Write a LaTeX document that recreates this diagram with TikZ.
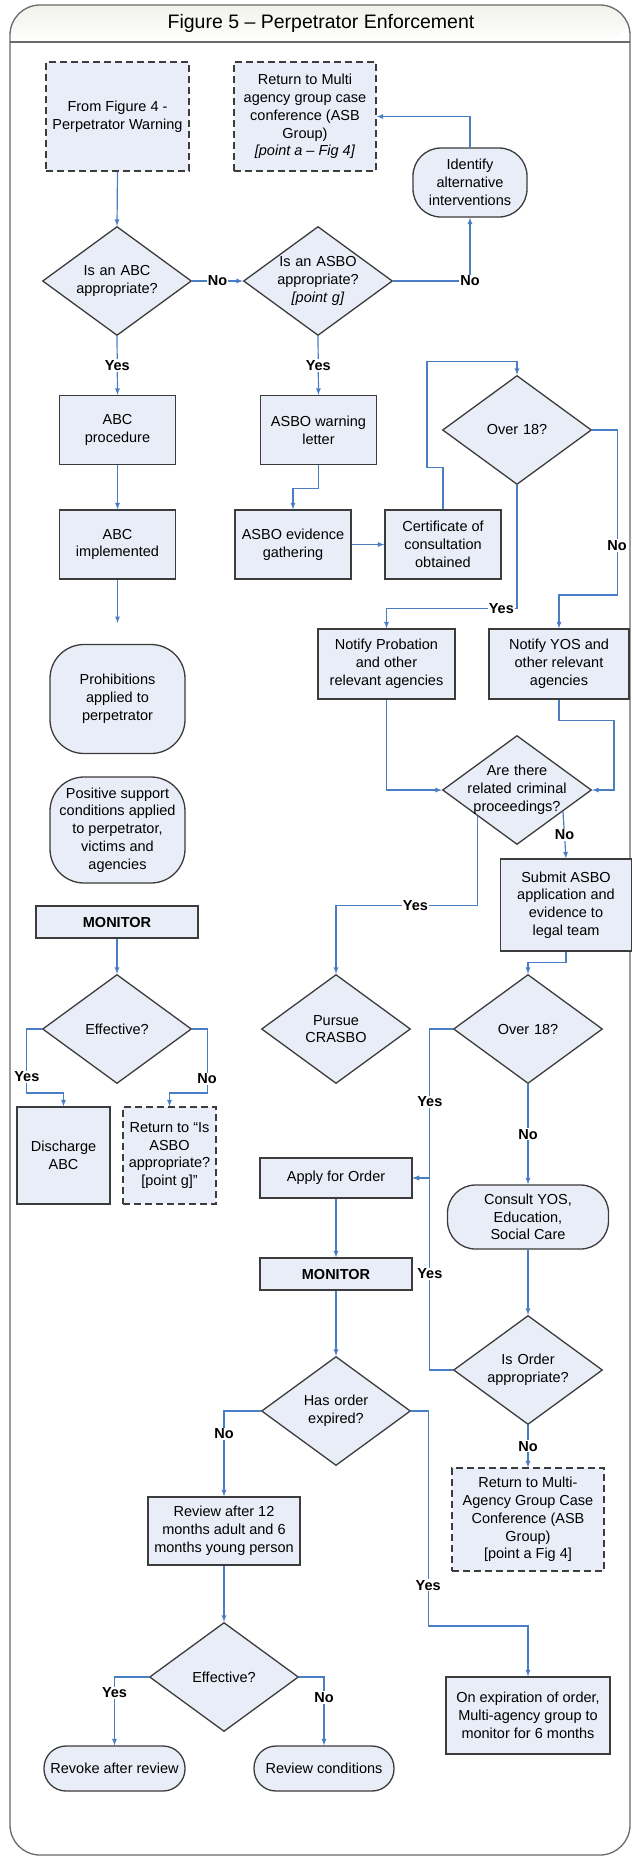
\documentclass[tikz,border=0pt]{standalone}
\usepackage{fontspec}
\setmainfont{Liberation Sans}
\usetikzlibrary{shapes.geometric}
\definecolor{boxfill}{RGB}{233,237,247}
\definecolor{boxline}{RGB}{60,60,60}
\definecolor{flowblue}{RGB}{74,126,196}
\definecolor{framegray}{RGB}{105,105,105}
\definecolor{titletop}{RGB}{240,242,234}
\tikzset{
	procbox/.style 2 args={draw=boxline, line width=1.3pt, fill=boxfill, align=center,
		minimum width=#1, minimum height=#2},
	linkbox/.style 2 args={procbox={#1}{#2}, dash pattern=on 7pt off 4pt},
	termbox/.style 2 args={procbox={#1}{#2}, rounded corners=28pt},
	decision/.style={diamond, aspect=1.37, draw=boxline, line width=1.3pt, fill=boxfill,
		minimum width=149pt, minimum height=109pt, inner xsep=-22pt, inner ysep=0pt,
		text width=104pt, align=center},
	flow/.style={draw=flowblue, line width=1.2pt, -latex},
	answer/.style={fill=white, inner sep=1pt, font=\bfseries\fontsize{14.5}{17}\selectfont}
}
\begin{document}
\begin{tikzpicture}[x=1pt, y=-1pt, font=\fontsize{14.5}{17.8}\selectfont]
	\useasboundingbox (0,0) rectangle (632,1858);
	\shade[top color=titletop, bottom color=white] (10,42) [rounded corners=30pt] -- (10,5) -- (630,5) -- (630,42) [sharp corners] -- cycle;
	\draw[framegray, line width=2pt] (10,42) -- (630,42);
	\draw[framegray, line width=1.3pt, rounded corners=30pt] (10,5) rectangle (630,1855);
	\node[font=\fontsize{19.5}{23}\selectfont] (title) at (321,23) {Figure 5 – Perpetrator Enforcement};

	\node[linkbox={143pt}{109pt}] (from4) at (117.5,116.5) {From Figure 4 -\\Perpetrator Warning};
	\node[linkbox={142pt}{109pt}] (ret4) at (305,116.5) {Return to Multi\\agency group case\\conference (ASB\\Group)\\\textit{[point a – Fig 4]}};
	\node[termbox={114pt}{69pt}] (ident) at (470,182.5) {Identify\\alternative\\interventions};
	\node[decision] (abc) at (117,281) {Is an ABC\\appropriate?};
	\node[decision] (asbo) at (318,281) {Is an ASBO\\appropriate?\\\textit{[point g]}};
	\node[procbox={116pt}{69pt}] (abcproc) at (117.5,430) {ABC\\procedure};
	\node[procbox={116pt}{69pt}] (asbowarn) at (318.5,430) {ASBO warning\\letter};
	\node[decision] (over18a) at (517,430) {Over 18?};
	\node[procbox={116pt}{69pt}] (abcimpl) at (117.5,544.5) {ABC\\implemented};
	\node[procbox={116pt}{69pt}] (evid) at (293,544.5) {ASBO evidence\\gathering};
	\node[procbox={116pt}{69pt}] (cert) at (443,544.5) {Certificate of\\consultation\\obtained};
	\coordinate (abcend) at (117.5,623);
	\node[termbox={135pt}{109pt}, rounded corners=34pt] (prohib) at (117.5,699) {Prohibitions\\applied to\\perpetrator};
	\node[termbox={135pt}{106pt}, rounded corners=34pt] (positive) at (117.5,830) {Positive support\\conditions applied\\to perpetrator,\\victims and\\agencies};
	\node[procbox={137pt}{70pt}] (notifyprob) at (386.5,664) {Notify Probation\\and other\\relevant agencies};
	\node[procbox={140pt}{70pt}] (notifyyos) at (559,664) {Notify YOS and\\other relevant\\agencies};
	\node[decision] (related) at (517,790) {Are there\\related criminal\\proceedings?};
	\node[procbox={131pt}{92pt}] (submit) at (566,905) {Submit ASBO\\application and\\evidence to\\legal team};
	\node[procbox={162pt}{32pt}] (monitor1) at (117,922) {\textbf{MONITOR}};
	\node[decision] (effect1) at (117,1029) {Effective?};
	\node[procbox={93pt}{97pt}] (discharge) at (63.5,1155.5) {Discharge\\ABC};
	\node[linkbox={93pt}{97pt}] (retg) at (169.5,1155.5) {Return to “Is\\ASBO\\appropriate?\\{}[point g]”};
	\node[decision] (crasbo) at (336,1029) {Pursue\\CRASBO};
	\node[decision] (over18b) at (528,1029) {Over 18?};
	\node[procbox={152pt}{40pt}] (apply) at (336,1178) {Apply for Order};
	\node[termbox={161pt}{64pt}] (consult) at (528,1217) {Consult YOS,\\Education,\\Social Care};
	\node[procbox={152pt}{32pt}] (monitor2) at (336,1274) {\textbf{MONITOR}};
	\node[decision] (expired) at (336,1411) {Has order\\expired?};
	\node[decision] (isorder) at (528,1370) {Is Order\\appropriate?};
	\node[linkbox={152pt}{103pt}] (retmulti) at (528,1519.5) {Return to Multi-\\Agency Group Case\\Conference (ASB\\Group)\\{}[point a Fig 4]};
	\node[procbox={152pt}{68pt}] (review) at (224,1531) {Review after 12\\months adult and 6\\months young person};
	\node[decision] (effect2) at (224,1677) {Effective?};
	\node[procbox={164pt}{77pt}] (onexp) at (528,1715.5) {On expiration of order,\\Multi-agency group to\\monitor for 6 months};
	\node[termbox={141pt}{45pt}, rounded corners=22pt] (revoke) at (114.5,1768.5) {Revoke after review};
	\node[termbox={140pt}{45pt}, rounded corners=22pt] (reviewcond) at (324,1768.5) {Review conditions};

	\draw[flow] (from4.south) -- (abc.north);
	\draw[flow] (abc.east) -- node[answer]{No} (asbo.west);
	\draw[flow] (asbo.east) -| node[answer]{No} (ident.south);
	\draw[flow] (ident.north) |- (ret4.east);
	\draw[flow] (abc.south) -- node[answer]{Yes} (abcproc.north);
	\draw[flow] (asbo.south) -- node[answer]{Yes} (asbowarn.north);
	\draw[flow] (abcproc) -- (abcimpl);
	\draw[flow] (abcimpl) -- (abcend);
	\draw[flow] (asbowarn.south) -- ++(0,23) -| (evid.north);
	\draw[flow] (evid) -- (cert);
	\draw[flow] (cert.north) -- ++(0,-42) -- ++(-16,0) -- ++(0,-106) -| (over18a.north);
	\draw[flow] (over18a.east) -- ++(25,0) -- node[answer,pos=0.7]{No} ++(0,165) -| (notifyyos.north);
	\draw[flow] (over18a.south) -- ++(0,123) -| node[answer,pos=0.06]{Yes} (notifyprob.north);
	\draw[flow] (notifyprob.south) |- (related.west);
	\draw[flow] (notifyyos.south) -- ++(0,21) -- ++(55,0) |- (related.east);
	\draw[flow] (related.-25) -- node[answer]{No} (submit.north);
	\draw[flow] (related.-146) -- ++(0,89) -| node[answer,pos=0.22]{Yes} (crasbo.north);
	\draw[flow] (submit.south) -- ++(0,11) -| (over18b.north);
	\draw[flow] (over18b.west) -- ++(-23,0) |- node[answer,pos=0.245]{Yes} (apply.east);
	\draw[flow] (isorder.west) -- ++(-23,0) |- node[answer,pos=0.25]{Yes} (apply.east);
	\draw[flow] (over18b.south) -- node[answer]{No} (consult.north);
	\draw[flow] (consult) -- (isorder);
	\draw[flow] (isorder.south) -- node[answer]{No} (retmulti.north);
	\draw[flow] (apply) -- (monitor2);
	\draw[flow] (monitor2) -- (expired);
	\draw[flow] (expired.west) -| node[answer,pos=0.634]{No} (review.north);
	\draw[flow] (expired.east) -- ++(17,0) -- node[answer,pos=0.81]{Yes} ++(0,215) -| (onexp.north);
	\draw[flow] (review) -- (effect2);
	\draw[flow] (effect2.west) -| node[answer,pos=0.616]{Yes} (revoke.north);
	\draw[flow] (effect2.east) -| node[answer,pos=0.65]{No} (reviewcond.north);
	\draw[flow] (monitor1) -- (effect1);
	\draw[flow] (effect1.west) -- ++(-15,0) -- node[answer,pos=0.75]{Yes} ++(0,64) -| (discharge.north);
	\draw[flow] (effect1.east) -- ++(15,0) -- node[answer,pos=0.78]{No} ++(0,64) -| (retg.north);
\end{tikzpicture}
\end{document}
